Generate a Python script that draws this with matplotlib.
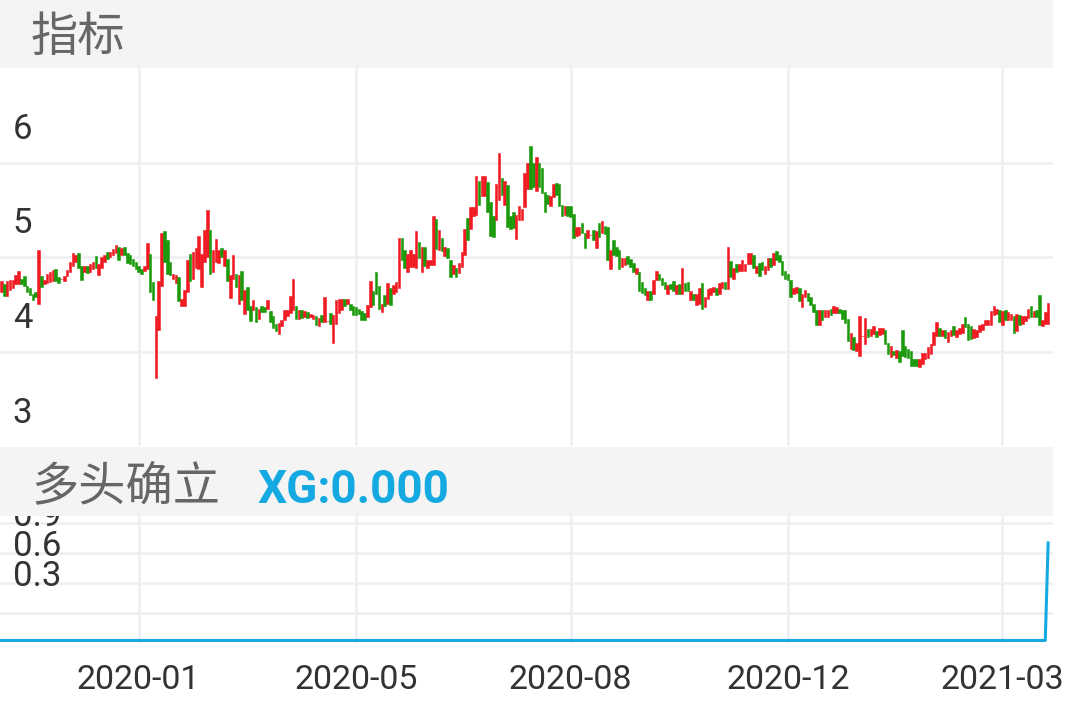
import matplotlib
matplotlib.use("Agg")
import numpy as np
import matplotlib.pyplot as plt
from matplotlib.patches import Rectangle
from matplotlib.transforms import blended_transform_factory, Bbox

plt.rcParams['font.family'] = ['Roboto', 'Noto Sans CJK SC', 'DejaVu Sans']

# daily candles (price units)
opens = [4.26, 4.35, 4.22, 4.28, 4.31, 4.35, 4.35, 4.40, 4.43, 4.33,
         4.30, 4.24, 4.26, 4.23, 4.43, 4.35, 4.36, 4.37, 4.38, 4.50,
         4.42, 4.40, 4.38, 4.43, 4.47, 4.54, 4.58, 4.67, 4.54, 4.47,
         4.54, 4.47, 4.51, 4.64, 4.44, 4.52, 4.58, 4.68, 4.63, 4.65,
         4.67, 4.74, 4.65, 4.74, 4.67, 4.65, 4.61, 4.58, 4.54, 4.51,
         4.48, 4.51, 4.66, 4.37, 3.86, 3.86, 4.33, 4.91, 4.81, 4.58,
         4.40, 4.36, 4.42, 4.12, 4.12, 4.26, 4.66, 4.40, 4.52, 4.51,
         4.50, 4.58, 4.63, 4.92, 4.47, 4.58, 4.57, 4.73, 4.54, 4.61,
         4.20, 4.40, 4.45, 4.14, 4.48, 4.03, 4.32, 4.11, 4.07, 4.10,
         3.98, 4.12, 4.10, 4.08, 4.06, 4.01, 3.93, 3.82, 3.90, 3.97,
         4.01, 4.04, 4.07, 4.11, 3.98, 4.07, 4.00, 4.05, 4.00, 3.98,
         4.01, 3.90, 4.02, 3.95, 3.96, 4.04, 3.93, 3.93, 4.04, 4.07,
         4.19, 4.14, 4.14, 4.12, 4.10, 4.08, 4.06, 4.04, 4.00, 4.10,
         4.27, 4.47, 4.33, 4.05, 4.23, 4.14, 4.31, 4.24, 4.26, 4.31,
         4.83, 4.70, 4.47, 4.53, 4.53, 4.52, 4.79, 4.47, 4.74, 4.52,
         4.55, 4.55, 5.03, 4.71, 4.83, 4.64, 4.73, 4.60, 4.45, 4.52,
         4.46, 4.53, 4.65, 5.04, 4.93, 5.06, 5.07, 5.43, 5.27, 5.27,
         5.42, 5.21, 5.06, 5.02, 5.23, 5.46, 5.18, 5.39, 5.06, 5.11,
         4.82, 5.02, 5.02, 5.16, 5.35, 5.70, 5.62, 5.33, 5.62, 5.57,
         5.32, 5.28, 5.17, 5.26, 5.41, 5.40, 5.18, 5.07, 5.17, 5.17,
         5.08, 4.85, 4.86, 4.99, 4.88, 4.83, 4.86, 4.92, 4.73, 4.99,
         4.88, 4.96, 4.95, 4.50, 4.81, 4.74, 4.70, 4.53, 4.55, 4.64,
         4.61, 4.57, 4.45, 4.47, 4.37, 4.31, 4.18, 4.27, 4.24, 4.39,
         4.45, 4.41, 4.37, 4.24, 4.35, 4.38, 4.24, 4.35, 4.24, 4.36,
         4.37, 4.18, 4.24, 4.13, 4.14, 4.36, 4.10, 4.19, 4.23, 4.26,
         4.31, 4.24, 4.31, 4.37, 4.29, 4.59, 4.40, 4.56, 4.48, 4.48,
         4.48, 4.56, 4.56, 4.65, 4.46, 4.57, 4.58, 4.45, 4.49, 4.62,
         4.55, 4.69, 4.65, 4.59, 4.48, 4.45, 4.39, 4.24, 4.25, 4.31,
         4.10, 4.21, 4.25, 4.21, 4.14, 4.07, 3.92, 4.07, 4.00, 4.00,
         4.08, 4.04, 4.04, 4.08, 4.07, 4.07, 3.98, 3.66, 3.79, 3.64,
         3.59, 3.80, 3.71, 3.87, 3.80, 3.82, 3.85, 3.81, 3.82, 3.86,
         3.73, 3.58, 3.64, 3.57, 3.64, 3.86, 3.69, 3.66, 3.64, 3.56,
         3.56, 3.47, 3.50, 3.56, 3.57, 3.61, 3.70, 3.80, 3.88, 3.80,
         3.86, 3.74, 3.80, 3.90, 3.79, 3.82, 3.83, 4.00, 3.93, 3.90,
         3.78, 3.79, 3.84, 3.86, 3.91, 3.91, 3.92, 4.02, 4.03, 4.07,
         3.92, 4.07, 3.97, 3.97, 4.01, 3.85, 4.02, 3.93, 3.96, 3.99,
         4.12, 4.00, 4.07, 4.23, 3.90, 3.93, 3.93]
closes = [4.38, 4.22, 4.38, 4.39, 4.39, 4.44, 4.48, 4.35, 4.33, 4.26,
          4.23, 4.18, 4.21, 4.37, 4.32, 4.39, 4.45, 4.47, 4.49, 4.38,
          4.36, 4.40, 4.43, 4.49, 4.58, 4.67, 4.65, 4.52, 4.39, 4.54,
          4.46, 4.56, 4.58, 4.52, 4.56, 4.63, 4.65, 4.61, 4.68, 4.72,
          4.76, 4.60, 4.73, 4.65, 4.57, 4.56, 4.54, 4.51, 4.47, 4.45,
          4.54, 4.60, 4.26, 4.18, 4.01, 4.38, 4.88, 4.58, 4.45, 4.44,
          4.45, 4.44, 4.17, 4.19, 4.28, 4.60, 4.38, 4.68, 4.73, 4.85,
          4.66, 4.92, 4.90, 4.45, 4.70, 4.82, 4.70, 4.63, 4.70, 4.38,
          4.44, 4.65, 4.32, 4.44, 4.18, 4.28, 4.07, 3.96, 4.18, 3.95,
          4.08, 4.05, 4.05, 4.18, 3.95, 3.88, 3.85, 3.94, 3.97, 4.07,
          4.07, 4.22, 4.20, 3.98, 4.07, 3.99, 4.06, 3.99, 4.03, 4.02,
          3.92, 3.99, 3.95, 4.21, 3.96, 3.93, 4.02, 4.18, 4.19, 4.19,
          4.11, 4.19, 4.07, 4.02, 4.02, 4.03, 3.97, 3.97, 4.13, 4.38,
          4.13, 4.24, 4.08, 4.14, 4.12, 4.36, 4.13, 4.34, 4.37, 4.83,
          4.60, 4.52, 4.66, 4.71, 4.66, 4.91, 4.62, 4.74, 4.54, 4.60,
          4.60, 5.06, 4.72, 4.92, 4.69, 4.74, 4.62, 4.42, 4.55, 4.42,
          4.57, 4.68, 4.93, 4.81, 5.16, 5.16, 5.48, 5.18, 5.48, 5.48,
          5.11, 4.85, 4.84, 5.40, 5.40, 5.28, 5.43, 4.95, 4.93, 4.94,
          5.07, 5.17, 5.14, 5.52, 5.62, 5.35, 5.37, 5.69, 5.37, 5.31,
          5.11, 5.19, 5.27, 5.40, 5.28, 5.17, 5.06, 5.17, 5.06, 5.05,
          4.83, 4.95, 4.95, 4.88, 4.73, 4.92, 4.86, 4.81, 4.91, 4.84,
          5.01, 4.87, 4.60, 4.70, 4.65, 4.64, 4.50, 4.62, 4.62, 4.56,
          4.53, 4.47, 4.52, 4.27, 4.25, 4.23, 4.27, 4.18, 4.39, 4.48,
          4.39, 4.34, 4.29, 4.34, 4.29, 4.27, 4.34, 4.24, 4.52, 4.27,
          4.27, 4.27, 4.18, 4.24, 4.31, 4.08, 4.21, 4.29, 4.31, 4.32,
          4.23, 4.36, 4.37, 4.29, 4.40, 4.42, 4.52, 4.47, 4.56, 4.60,
          4.56, 4.67, 4.67, 4.52, 4.54, 4.43, 4.49, 4.54, 4.62, 4.53,
          4.67, 4.60, 4.58, 4.44, 4.40, 4.39, 4.21, 4.31, 4.32, 4.17,
          4.24, 4.28, 4.17, 4.13, 4.05, 3.91, 4.07, 3.97, 4.07, 4.07,
          4.02, 4.11, 4.10, 4.04, 3.98, 3.94, 3.75, 3.83, 3.65, 3.73,
          4.01, 3.80, 3.99, 3.79, 3.87, 3.90, 3.79, 3.88, 3.88, 3.71,
          3.61, 3.69, 3.60, 3.65, 3.53, 3.59, 3.58, 3.57, 3.48, 3.48,
          3.48, 3.56, 3.62, 3.62, 3.68, 3.72, 3.84, 3.95, 3.80, 3.86,
          3.78, 3.84, 3.86, 3.81, 3.86, 3.88, 3.93, 3.89, 3.76, 3.77,
          3.87, 3.86, 3.91, 3.93, 3.97, 3.97, 4.06, 4.12, 4.08, 3.95,
          4.06, 3.97, 4.05, 4.03, 3.83, 4.03, 3.91, 4.01, 4.01, 4.08,
          4.00, 4.06, 4.00, 3.91, 3.97, 4.05, 4.15]
highs = [4.38, 4.35, 4.38, 4.39, 4.39, 4.44, 4.48, 4.40, 4.43, 4.33,
         4.30, 4.24, 4.26, 4.70, 4.43, 4.39, 4.45, 4.47, 4.49, 4.50,
         4.42, 4.40, 4.43, 4.49, 4.58, 4.67, 4.65, 4.67, 4.54, 4.54,
         4.54, 4.56, 4.58, 4.64, 4.56, 4.63, 4.65, 4.68, 4.68, 4.72,
         4.76, 4.74, 4.73, 4.74, 4.67, 4.65, 4.61, 4.58, 4.54, 4.51,
         4.54, 4.78, 4.66, 4.37, 4.01, 4.38, 4.88, 4.91, 4.81, 4.58,
         4.45, 4.44, 4.42, 4.19, 4.28, 4.60, 4.66, 4.68, 4.73, 4.85,
         4.66, 4.92, 5.13, 4.92, 4.70, 4.82, 4.70, 4.73, 4.70, 4.61,
         4.44, 4.65, 4.45, 4.44, 4.48, 4.28, 4.32, 4.11, 4.18, 4.10,
         4.08, 4.12, 4.10, 4.18, 4.06, 4.01, 3.93, 3.94, 3.97, 4.07,
         4.07, 4.22, 4.40, 4.11, 4.07, 4.07, 4.06, 4.05, 4.03, 4.02,
         4.01, 3.99, 4.02, 4.21, 3.96, 4.04, 4.02, 4.18, 4.19, 4.19,
         4.19, 4.19, 4.14, 4.12, 4.10, 4.08, 4.06, 4.04, 4.13, 4.38,
         4.27, 4.47, 4.33, 4.14, 4.23, 4.36, 4.31, 4.34, 4.37, 4.83,
         4.83, 4.70, 4.66, 4.71, 4.66, 4.91, 4.79, 4.74, 4.74, 4.60,
         4.60, 5.06, 5.03, 4.92, 4.83, 4.74, 4.73, 4.60, 4.55, 4.52,
         4.57, 4.68, 4.93, 5.04, 5.16, 5.16, 5.48, 5.43, 5.48, 5.48,
         5.42, 5.21, 5.06, 5.40, 5.73, 5.46, 5.43, 5.39, 5.06, 5.11,
         5.07, 5.17, 5.14, 5.52, 5.62, 5.80, 5.62, 5.69, 5.62, 5.57,
         5.32, 5.28, 5.27, 5.40, 5.41, 5.40, 5.18, 5.17, 5.17, 5.17,
         5.08, 4.95, 4.95, 4.99, 4.88, 4.92, 4.86, 4.92, 4.91, 4.99,
         5.01, 4.96, 4.95, 4.70, 4.81, 4.74, 4.70, 4.62, 4.62, 4.64,
         4.61, 4.57, 4.52, 4.47, 4.37, 4.31, 4.27, 4.27, 4.39, 4.48,
         4.45, 4.41, 4.37, 4.34, 4.35, 4.38, 4.34, 4.35, 4.52, 4.36,
         4.37, 4.27, 4.24, 4.24, 4.31, 4.36, 4.21, 4.29, 4.31, 4.32,
         4.31, 4.36, 4.37, 4.37, 4.74, 4.59, 4.52, 4.56, 4.56, 4.60,
         4.56, 4.67, 4.67, 4.65, 4.54, 4.57, 4.58, 4.54, 4.62, 4.62,
         4.67, 4.69, 4.65, 4.59, 4.48, 4.45, 4.39, 4.31, 4.32, 4.31,
         4.24, 4.28, 4.25, 4.21, 4.14, 4.07, 4.07, 4.07, 4.07, 4.07,
         4.08, 4.11, 4.10, 4.08, 4.07, 4.07, 3.98, 3.83, 3.79, 3.73,
         4.01, 3.80, 3.99, 3.87, 3.87, 3.90, 3.85, 3.88, 3.88, 3.86,
         3.73, 3.69, 3.64, 3.65, 3.64, 3.86, 3.69, 3.66, 3.64, 3.56,
         3.56, 3.56, 3.62, 3.62, 3.68, 3.72, 3.84, 3.95, 3.88, 3.86,
         3.86, 3.84, 3.86, 3.90, 3.86, 3.88, 3.93, 4.00, 3.93, 3.90,
         3.87, 3.86, 3.91, 3.93, 3.97, 3.97, 4.06, 4.12, 4.08, 4.07,
         4.06, 4.07, 4.05, 4.03, 4.01, 4.03, 4.02, 4.01, 4.01, 4.08,
         4.12, 4.06, 4.07, 4.23, 3.97, 4.05, 4.15]
lows = [4.26, 4.22, 4.22, 4.28, 4.31, 4.35, 4.35, 4.35, 4.33, 4.26,
        4.23, 4.18, 4.21, 4.14, 4.32, 4.35, 4.36, 4.37, 4.38, 4.38,
        4.36, 4.40, 4.38, 4.43, 4.47, 4.54, 4.58, 4.52, 4.39, 4.47,
        4.46, 4.47, 4.51, 4.52, 4.44, 4.52, 4.58, 4.61, 4.63, 4.65,
        4.67, 4.60, 4.65, 4.65, 4.57, 4.56, 4.54, 4.51, 4.47, 4.45,
        4.48, 4.51, 4.26, 4.18, 3.36, 3.86, 4.33, 4.58, 4.45, 4.44,
        4.40, 4.36, 4.17, 4.12, 4.12, 4.26, 4.38, 4.40, 4.52, 4.51,
        4.32, 4.58, 4.63, 4.45, 4.47, 4.58, 4.57, 4.63, 4.54, 4.38,
        4.20, 4.40, 4.32, 4.14, 4.18, 4.03, 4.07, 3.96, 4.07, 3.95,
        3.98, 4.05, 4.05, 4.08, 3.95, 3.88, 3.85, 3.82, 3.90, 3.97,
        4.01, 4.04, 4.07, 3.98, 3.98, 3.99, 4.00, 3.99, 4.00, 3.98,
        3.92, 3.90, 3.95, 3.95, 3.96, 3.93, 3.73, 3.93, 4.04, 4.07,
        4.11, 4.14, 4.07, 4.02, 4.02, 4.03, 3.97, 3.97, 4.00, 4.10,
        4.13, 4.24, 4.08, 4.05, 4.12, 4.14, 4.13, 4.24, 4.26, 4.31,
        4.60, 4.52, 4.47, 4.53, 4.53, 4.52, 4.62, 4.47, 4.54, 4.52,
        4.55, 4.55, 4.72, 4.71, 4.69, 4.64, 4.62, 4.42, 4.45, 4.42,
        4.46, 4.53, 4.65, 4.81, 4.93, 5.06, 5.07, 5.18, 5.27, 5.27,
        5.11, 4.85, 4.84, 5.02, 5.23, 5.28, 5.18, 4.95, 4.93, 4.94,
        4.82, 5.02, 5.02, 5.16, 5.35, 5.35, 5.37, 5.33, 5.37, 5.31,
        5.11, 5.19, 5.17, 5.26, 5.28, 5.17, 5.06, 5.07, 5.06, 5.05,
        4.83, 4.85, 4.86, 4.88, 4.73, 4.83, 4.86, 4.81, 4.73, 4.84,
        4.88, 4.87, 4.60, 4.50, 4.65, 4.64, 4.50, 4.53, 4.55, 4.56,
        4.53, 4.47, 4.45, 4.27, 4.25, 4.23, 4.18, 4.18, 4.24, 4.39,
        4.39, 4.34, 4.29, 4.24, 4.29, 4.27, 4.24, 4.24, 4.24, 4.27,
        4.27, 4.18, 4.18, 4.13, 4.14, 4.08, 4.10, 4.19, 4.23, 4.26,
        4.23, 4.24, 4.31, 4.29, 4.29, 4.42, 4.40, 4.47, 4.48, 4.48,
        4.48, 4.56, 4.56, 4.52, 4.46, 4.43, 4.49, 4.45, 4.49, 4.53,
        4.55, 4.60, 4.58, 4.44, 4.40, 4.39, 4.21, 4.24, 4.25, 4.17,
        4.10, 4.21, 4.17, 4.13, 4.05, 3.91, 3.92, 3.97, 4.00, 4.00,
        4.02, 4.04, 4.04, 4.04, 3.98, 3.94, 3.75, 3.66, 3.65, 3.64,
        3.59, 3.80, 3.71, 3.79, 3.80, 3.82, 3.79, 3.81, 3.82, 3.71,
        3.61, 3.58, 3.60, 3.57, 3.53, 3.59, 3.58, 3.57, 3.48, 3.48,
        3.48, 3.47, 3.50, 3.56, 3.57, 3.61, 3.70, 3.80, 3.80, 3.80,
        3.78, 3.74, 3.80, 3.81, 3.79, 3.82, 3.83, 3.89, 3.76, 3.77,
        3.78, 3.79, 3.84, 3.86, 3.91, 3.91, 3.92, 4.02, 4.03, 3.95,
        3.92, 3.97, 3.97, 3.97, 3.83, 3.85, 3.91, 3.93, 3.96, 3.99,
        4.00, 4.00, 4.00, 3.91, 3.90, 3.93, 3.93]

# XG signal: flat at zero, jumps on the last day
xg = [0.0] * (len(closes) - 1) + [1.0]

tick_pos = [48, 124, 199, 275, 350]
tick_labels = ['2020-01', '2020-05', '2020-08', '2020-12', '2021-03']
price_labels = [3, 4, 5, 6]
xg_labels = ['0.3', '0.6', '0.9']

RED, GREEN, BLUE = '#f01a22', '#1a9a0b', '#15a9e1'
GRID = '#eeeff2'
W, H = 1065, 708


def box(top, bottom, left=0, right=1053):
    return [left / W, 1 - bottom / H, (right - left) / W, (bottom - top) / H]


n = len(closes)
x = np.arange(n)
hi = np.array(highs)
lo = np.array(lows)
cols = [RED if c >= o else GREEN for o, c in zip(opens, closes)]

fig = plt.figure(figsize=(W / 100, H / 100), dpi=100)

# price panel
ax = fig.add_axes(box(68, 446))
ax.bar(x, hi - lo, bottom=lo, width=0.9, color=cols, edgecolor=cols,
       linewidth=0.4)
ax.set_xlim(-0.5, n + 0.7)
ax.set_ylim(2.64, 6.623)
y0, y1 = ax.get_ylim()
ax.set_yticks(np.linspace(y0, y1, 5)[1:4])
ax.set_xticks(tick_pos)
ax.tick_params(length=0, labelleft=False, labelbottom=False)
ax.grid(True, color=GRID, linewidth=1.8)
ax.set_axisbelow(True)
for s in ax.spines.values():
    s.set_visible(False)
trans = blended_transform_factory(ax.transAxes, ax.transData)
for v in price_labels:
    ax.text(0.012, v - 0.02, str(v), transform=trans, ha='left', va='center',
            fontsize=25, color='#333333')

# XG panel
ax2 = fig.add_axes(box(493, 643))
ax2.plot(x, xg, color=BLUE, linewidth=2.2, clip_on=False)
ax2.set_xlim(-0.5, n + 0.7)
ax2.set_ylim(-0.026, 1.513)
y0, y1 = ax2.get_ylim()
ax2.set_yticks(np.linspace(y0, y1, 6)[1:5])
ax2.set_xticks(tick_pos)
ax2.set_xticklabels(tick_labels, fontsize=24.5, color='#333333')
ax2.tick_params(axis='x', length=0, pad=15)
ax2.tick_params(axis='y', length=0, labelleft=False)
ax2.grid(True, color=GRID, linewidth=1.8)
ax2.set_axisbelow(True)
for s in ax2.spines.values():
    s.set_visible(False)
# part of the top label sits under the header band, as in the app
clip = Bbox.from_extents(0, 0, W, H - 516)
for lab, fy in zip(xg_labels, [0.44, 0.64, 0.84]):
    t = ax2.text(0.012, fy, lab, transform=ax2.transAxes, ha='left',
                 va='center', fontsize=25, color='#333333')
    t.set_clip_box(clip)
    t.set_clip_on(True)

# header bands
for top, bottom in [(0, 68), (447, 516)]:
    fig.add_artist(Rectangle((0, 1 - bottom / H), 1053 / W, (bottom - top) / H,
                             transform=fig.transFigure, facecolor='#f4f4f4',
                             edgecolor='none', zorder=3))
cjk = ['Noto Sans CJK SC', 'DejaVu Sans']
fig.text(31 / W, 1 - 38 / H, '指标', fontsize=34, color='#666666',
         va='center', ha='left', family=cjk, zorder=4)
fig.text(31 / W, 1 - 487 / H, '多头确立', fontsize=34, color='#666666',
         va='center', ha='left', family=cjk, zorder=4)
fig.text(257 / W, 1 - 490 / H, 'XG:0.000', fontsize=33, fontweight='bold',
         color=BLUE, va='center', ha='left', zorder=4)

fig.savefig('out.png', dpi=100)
